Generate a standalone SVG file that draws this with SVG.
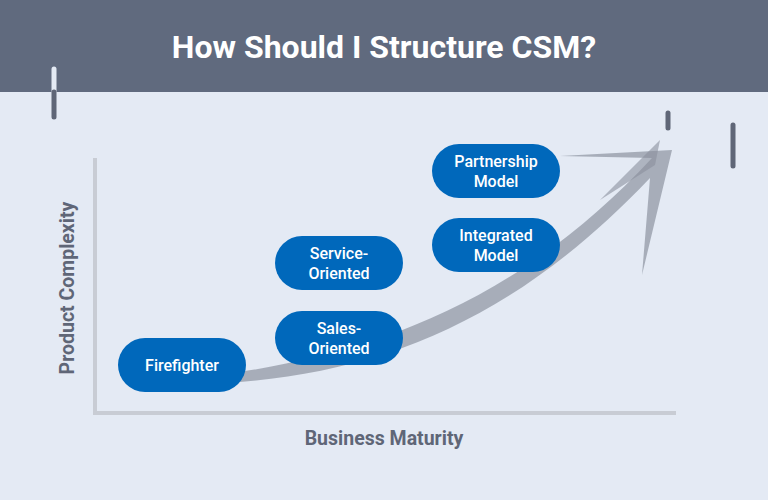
<svg xmlns="http://www.w3.org/2000/svg" width="768" height="500" viewBox="0 0 768 500">
<style>
.node rect{fill:#0068bb}
.node text{fill:#fff;font-family:Roboto,"Liberation Sans",sans-serif;font-size:16px;font-weight:500;text-anchor:middle}
.axl{fill:#5f6677;font-family:Roboto,"Liberation Sans",sans-serif;font-size:19.5px;font-weight:700;text-anchor:middle}
.deco{stroke:#5f6677;stroke-width:5;stroke-linecap:round}
</style>
<rect width="768" height="500" fill="#e4eaf4"/>
<rect width="768" height="92" fill="#606a7e"/>
<text x="384" y="58" fill="#fff" font-family="Roboto,'Liberation Sans',sans-serif" font-size="32" font-weight="700" text-anchor="middle">How Should I Structure CSM?</text>
<line x1="54" y1="69" x2="54" y2="92" stroke="#e4eaf4" stroke-width="5" stroke-linecap="round"/>
<line x1="54" y1="92" x2="54" y2="117" class="deco"/>
<line x1="668" y1="113" x2="668" y2="128" class="deco"/>
<line x1="733" y1="125" x2="733" y2="166" class="deco"/>
<g id="axes" stroke="#c8ccd4" stroke-width="4" fill="none">
<polyline points="95,158 95,413 676,413"/>
</g>
<text class="axl" x="384" y="445">Business Maturity</text>
<text class="axl" transform="translate(74,288) rotate(-90)">Product Complexity</text>
<g id="connectors">
<path d="M240,372 C380,350 520,300 652,158 L560,156 L672,150 L642,275 L650,178 C520,315 390,370 240,382 Z" fill="#a0a6b2" opacity="0.9"/>
<path d="M600,200 L660,140 L655,165 Z" fill="#8a909c" opacity="0.6"/>
</g>
<g id="firefighter" class="node"><rect x="118" y="338" width="128" height="54" rx="27"/><text x="182" y="371">Firefighter</text></g>
<g id="sales" class="node"><rect x="275" y="311" width="128" height="54" rx="27"/><text x="339" y="334">Sales-</text><text x="339" y="354">Oriented</text></g>
<g id="service" class="node"><rect x="275" y="236" width="128" height="54" rx="27"/><text x="339" y="259">Service-</text><text x="339" y="279">Oriented</text></g>
<g id="integrated" class="node"><rect x="432" y="218" width="128" height="54" rx="27"/><text x="496" y="241">Integrated</text><text x="496" y="261">Model</text></g>
<g id="partnership" class="node"><rect x="432" y="144" width="128" height="54" rx="27"/><text x="496" y="167">Partnership</text><text x="496" y="187">Model</text></g>
</svg>
